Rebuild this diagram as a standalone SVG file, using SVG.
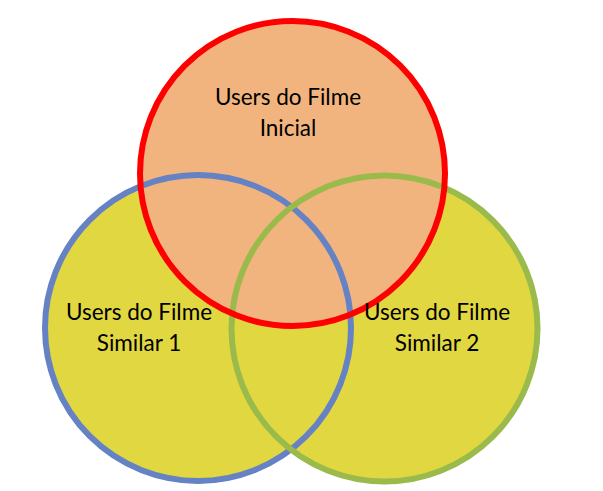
<svg xmlns="http://www.w3.org/2000/svg" width="603" height="491" viewBox="0 0 603 491">
<style>
.lbl{font-family:Lato,"Open Sans","Liberation Sans",sans-serif;font-size:22.5px;fill:#000;text-anchor:middle}
.yel{fill:#E1D741}
.sal{fill:#F2B47F}
</style>
<rect width="603" height="491" fill="#fff"/>
<g id="fills">
<circle class="yel" cx="198" cy="328" r="153"/>
<circle class="yel" cx="384.5" cy="328.5" r="153"/>
<circle class="sal" cx="292.5" cy="173.5" r="152.5"/>
</g>
<g id="node-similar1">
<circle cx="198" cy="328" r="153" fill="none" stroke="#6582C4" stroke-width="6"/>
</g>
<g id="node-similar2">
<circle cx="384.5" cy="328.5" r="153" fill="none" stroke="#9ABB4C" stroke-width="6"/>
</g>
<g id="node-inicial">
<circle cx="292.5" cy="173.5" r="152.5" fill="none" stroke="#FF0000" stroke-width="6"/>
</g>
<g id="labels">
<text class="lbl" x="288" y="105">Users do Filme</text>
<text class="lbl" x="288" y="136">Inicial</text>
<text class="lbl" x="139" y="320">Users do Filme</text>
<text class="lbl" x="139" y="351">Similar 1</text>
<text class="lbl" x="437" y="320">Users do Filme</text>
<text class="lbl" x="437" y="351">Similar 2</text>
</g>
</svg>
